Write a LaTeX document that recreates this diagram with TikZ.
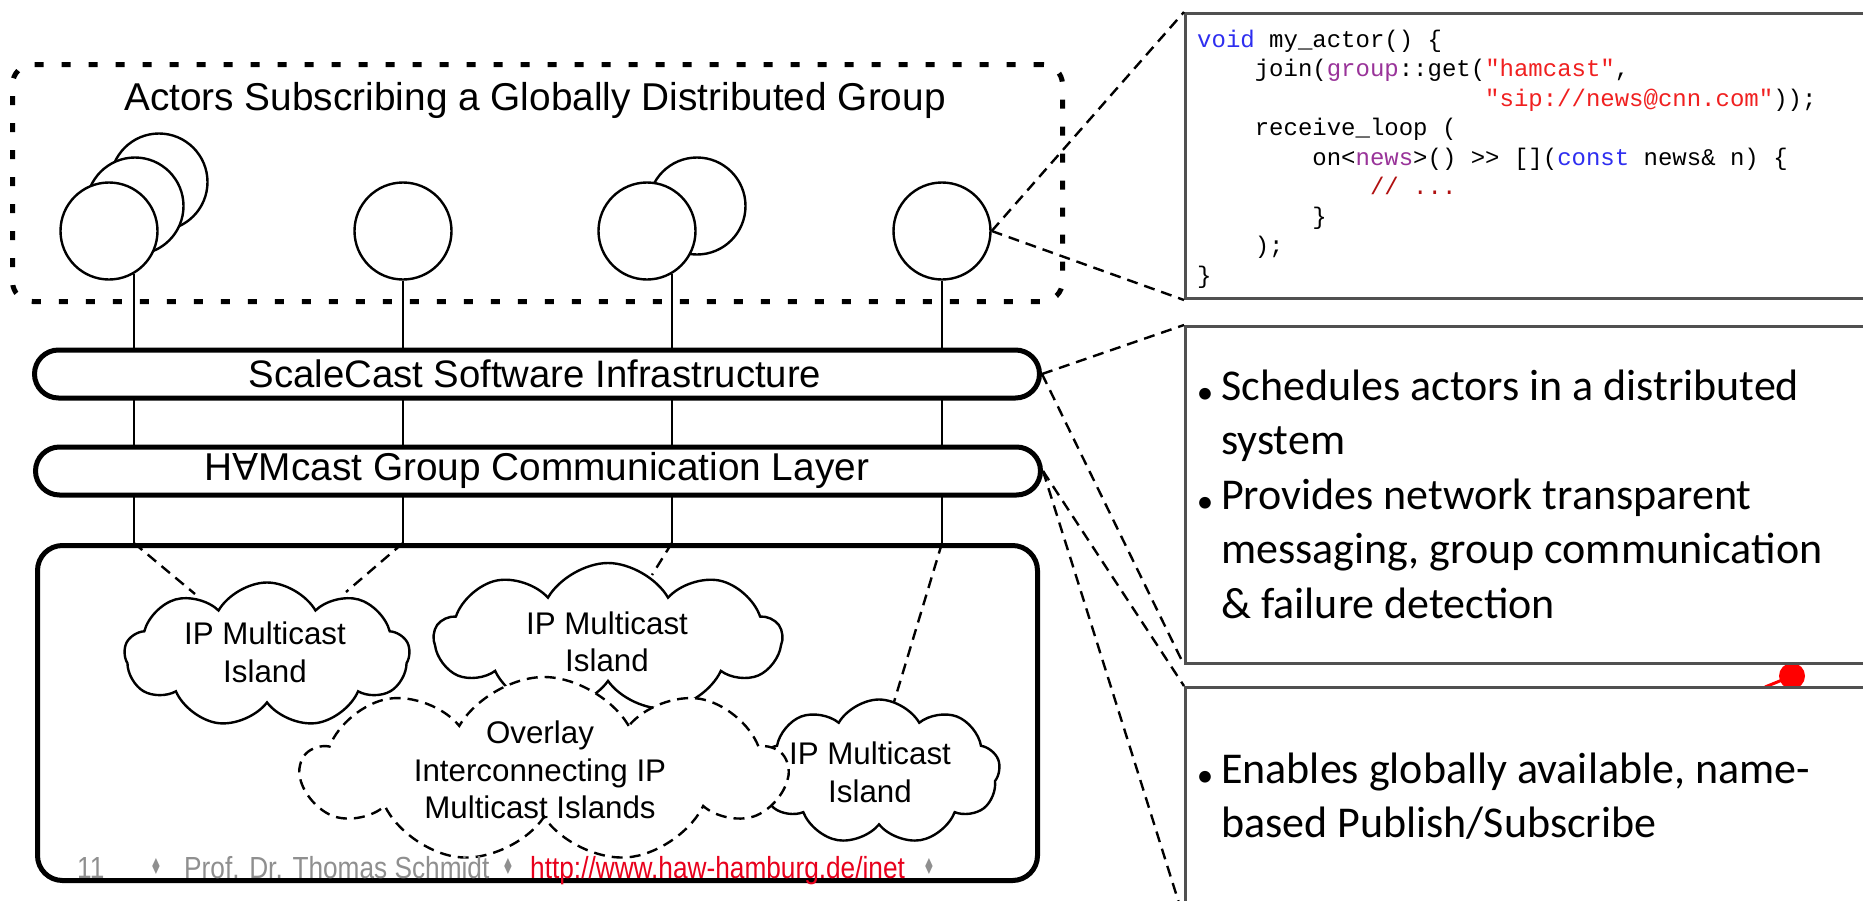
\documentclass[tikz,border=0pt]{standalone}
\usepackage{fontspec}
\usepackage{graphicx}
\setmainfont{Liberation Sans}
\setmonofont{Liberation Mono}
\newfontfamily\calfont{Carlito}
\newfontfamily\footfont[FakeStretch=0.86]{Liberation Sans}
\newfontfamily\symfont{DejaVu Sans}
\usetikzlibrary{shapes.symbols}
\definecolor{codeblue}{HTML}{2E2EF0}
\definecolor{codepurple}{HTML}{993399}
\definecolor{codered}{HTML}{F02020}
\definecolor{codecomment}{HTML}{B01010}
\definecolor{footgray}{HTML}{8F8F8F}
\definecolor{urlred}{HTML}{E8001C}
\definecolor{panelgray}{HTML}{505050}
\newcommand\ind[1]{\hspace*{#1\dimexpr 0.6em\relax}}
\newcommand\pbul{\llap{\raisebox{-0.07em}{\scalebox{0.75}{•}}\hspace{8pt}}}
\newcommand\fdia{{\symfont\fontsize{22}{22}\selectfont\scalebox{0.6}[1]{♦}}}
\begin{document}
\begin{tikzpicture}[x=1pt,y=-1pt,
  conn/.style={line width=2.2pt},
  dashc/.style={line width=2.4pt, dash pattern=on 11pt off 7pt},
  actor/.style={circle, draw, fill=white, line width=2.4pt, minimum size=97pt, inner sep=0pt},
  bar/.style={draw, fill=white, line width=5pt, rounded corners=24pt, minimum width=1005pt, minimum height=48pt, inner sep=0pt},
  lbl/.style={font=\fontsize{38.3}{45}\selectfont, inner sep=0pt, anchor=base},
  island/.style={cloud, cloud puffs=9, cloud puff arc=120, cloud ignores aspect, draw, fill=white, line width=2.4pt, inner sep=0pt},
  ctext/.style={font=\fontsize{31.3}{37.5}\selectfont, align=center, inner sep=0pt},
  panel/.style={draw=panelgray, fill=white, line width=3pt, anchor=north west, minimum width=700pt, inner sep=0pt},
  foot/.style={anchor=base west, inner sep=0pt, font=\footfont\fontsize{30.5}{30.5}\selectfont, text=footgray},
  ptext/.style={anchor=base west, align=left, inner sep=0pt, font=\calfont\fontsize{44}{54.5}\selectfont},
]
\useasboundingbox (0,0) rectangle (1863,900);
\clip (0,0) rectangle (1863,900);
\fill[white] (0,0) rectangle (1863,900);

% group of actors
\node[draw, line width=5pt, dash pattern=on 9pt off 18pt, rounded corners=20pt,
      minimum width=1050pt, minimum height=237pt, inner sep=0pt] (grp) at (537.5,183) {};
\node[lbl, font=\fontsize{38.8}{45}\selectfont] (title) at (535,110) {Actors Subscribing a Globally Distributed Group};

\coordinate (boxtop) at (537.5,543);
\node[actor] (a1c) at (159,182) {};
\node[actor] (a1b) at (135,206) {};
\node[actor] (a1) at (109,231) {};
\node[actor] (a2) at (403,231) {};
\node[actor] (a3b) at (697,206) {};
\node[actor] (a3) at (647,231) {};
\node[actor] (a4) at (942,231) {};

\coordinate (t1) at (a1.-60 |- boxtop);
\coordinate (t2) at (a2.south |- boxtop);
\coordinate (t3) at (a3.-60 |- boxtop);
\coordinate (t4) at (a4.south |- boxtop);
\draw[conn] (a1.-60) -- (t1);
\draw[conn] (a2.south) -- (t2);
\draw[conn] (a3.-60) -- (t3);
\draw[conn] (a4.south) -- (t4);

% layers
\node[bar] (sc) at (537,374) {};
\node[lbl] (sctext) at (535,387) {ScaleCast Software Infrastructure};
\node[bar] (hc) at (538,471) {};
\node[lbl, font=\fontsize{38.8}{45}\selectfont] (hctext) at (537,480) {H\rotatebox[origin=c]{180}{A}Mcast Group Communication Layer};

\node[draw, fill=white, line width=5pt, rounded corners=25pt, minimum width=1000pt,
      minimum height=335pt, inner sep=0pt] (bx) at (537.5,713) {};

% dashed links to islands
\coordinate (e1) at (195,594);
\coordinate (e2) at (346,592);
\coordinate (e3) at (652,575);
\coordinate (e4) at (894,702);
\draw[dashc] (t1) -- (e1);
\draw[dashc] (t2) -- (e2);
\draw[dashc] (t3) -- (e3);
\draw[dashc] (t4) -- (e4);

% islands
\node[island, minimum width=285pt, minimum height=145pt] (c1) at (267,655) {};
\node[island, minimum width=347pt, minimum height=150pt] (c2) at (608,638) {};
\node[island, minimum width=242pt, minimum height=145pt] (c3) at (879,772) {};
\node[island, dash pattern=on 11pt off 7pt, minimum width=484pt, minimum height=186pt] (ov) at (544,770) {};
\node[ctext] (c1t) at (265,652.5) {IP Multicast\\Island};
\node[ctext] (c2t) at (607,642) {IP Multicast\\Island};
\node[ctext] (c3t) at (870,772.5) {IP Multicast\\Island};
\node[ctext] (ovt) at (540,770) {Overlay\\Interconnecting IP\\Multicast Islands};

% footer
\node[foot] (fnum) at (77,878) {11};
\node[foot] (fd1) at (150,874) {\fdia};
\node[foot] (fname) at (184,878) {Prof. Dr. Thomas Schmidt};
\node[foot] (fd2) at (502,874) {\fdia};
\node[foot, text=urlred] (furl) at (530,878) {http://www.haw-hamburg.de/inet};
\node[foot] (fd3) at (923,874) {\fdia};

% red marker
\node[circle, fill=red, minimum size=26pt, inner sep=0pt] (dot) at (1792,676) {};
\coordinate (dotend) at (1765,687);
\draw[red, line width=3pt] (dot.center) -- (dotend);

% right panels
\node[panel, minimum height=285pt] (p1) at (1184,12) {};
\node[panel, minimum height=337pt] (p2) at (1184,325) {};
\node[panel, minimum height=230pt] (p3) at (1184,686) {};

\node[anchor=base west, align=left, inner sep=0pt, font=\ttfamily\fontsize{24}{29.5}\selectfont] (code) at (1197,283)
{\textcolor{codeblue}{void} my\_actor() \{\\
\ind{4}join(\textcolor{codepurple}{group}::get(\textcolor{codered}{"hamcast"},\\
\ind{20}\textcolor{codered}{"sip://news@cnn.com"}));\\
\ind{4}receive\_loop (\\
\ind{8}on<\textcolor{codepurple}{news}>() >{}> [](\textcolor{codeblue}{const} news\& n) \{\\
\ind{12}\textcolor{codecomment}{// ...}\\
\ind{8}\}\\
\ind{4});\\
\}};

\node[ptext] (p2text) at (1221,618) {\pbul Schedules actors in a distributed\\system\\\pbul Provides network transparent\\messaging, group communication\\\& failure detection};
\node[ptext] (p3text) at (1221,837.5) {\pbul Enables globally available, name-\\based Publish/Subscribe};

% dashed zoom lines
\draw[dashc] (a4.east) -- (p1.north west);
\draw[dashc] (a4.east) -- (p1.south west);
\draw[dashc] (sc.east) -- (p2.north west);
\draw[dashc] (sc.east) -- (p2.south west);
\draw[dashc] (hc.east) -- (p3.north west);
\draw[dashc] (hc.east) -- (p3.south west);
\end{tikzpicture}
\end{document}
